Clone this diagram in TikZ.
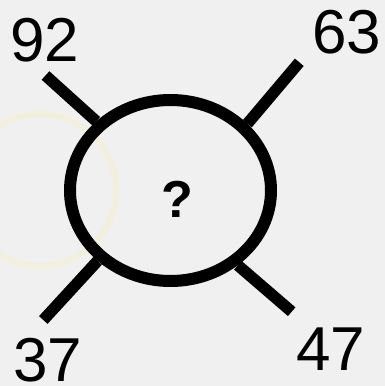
\documentclass[tikz,border=0pt]{standalone}
\usepackage{fontspec}
\setmainfont{Liberation Sans}
\usetikzlibrary{shapes.geometric}
\definecolor{bg}{HTML}{F0F0F0}
\definecolor{ghost}{HTML}{F2EFDC}
\begin{document}
\begin{tikzpicture}[x=1pt,y=1pt,
  num/.style={inner sep=0pt,font=\fontsize{62}{62}\selectfont},
  spoke/.style={line width=11.5pt,line cap=butt}]
\useasboundingbox (0,0) rectangle (385,386);
\fill[bg] (0,0) rectangle (385,386);
% faint watermark ring
\draw[ghost,line width=6pt] (40,196) circle[radius=76];
% central ellipse
\node[draw,ellipse,line width=12pt,minimum width=201pt,minimum height=181pt,inner sep=0pt] (e) at (170.5,195.5) {};
\node[inner sep=0pt,font=\bfseries\fontsize{52}{52}\selectfont] (q) at (177,187) {?};
% spoke ends
\coordinate (c92) at (45.5,310.5);
\coordinate (c63) at (299.3,323.7);
\coordinate (c37) at (43.3,66);
\coordinate (c47) at (291.7,74.3);
\draw[spoke] (c92) -- (e.137);
\draw[spoke] (c63) -- (e.41);
\draw[spoke] (c37) -- (e.224);
\draw[spoke] (c47) -- (e.312);
% labels
\node[num] (n92) at (44.5,346) {92};
\node[num] (n63) at (347,353.5) {63};
\node[num] (n37) at (48,26) {37};
\node[num] (n47) at (331,36.5) {47};
\end{tikzpicture}
\end{document}
